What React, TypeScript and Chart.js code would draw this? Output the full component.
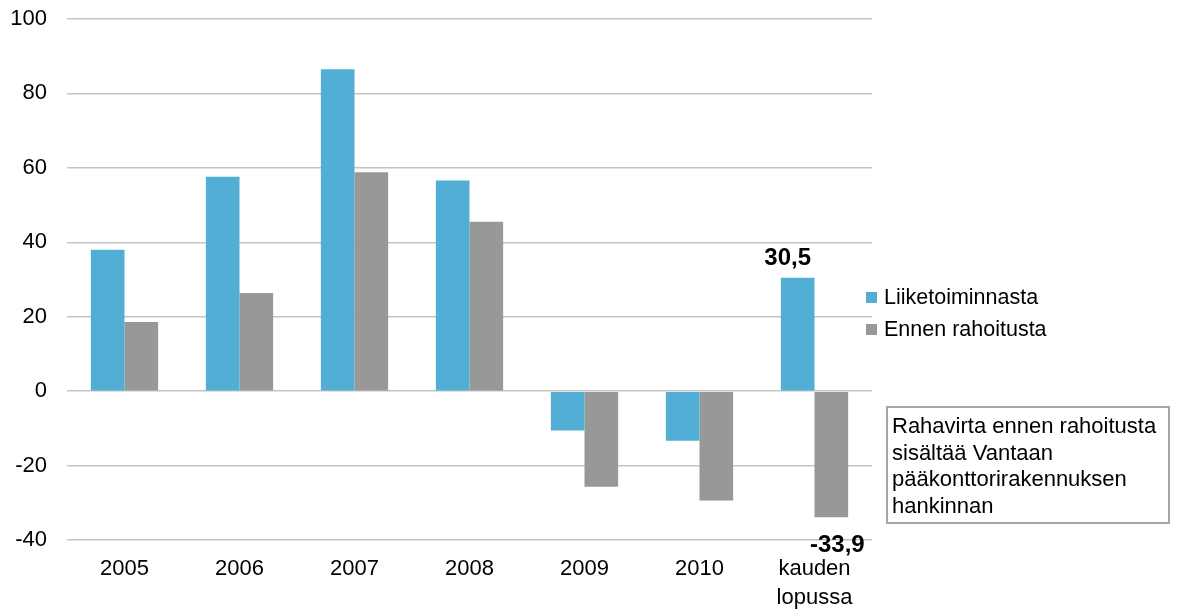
import React, { useEffect, useRef } from "react";
import { Chart, registerables } from "chart.js";

Chart.register(...registerables);

const categories: (string | string[])[] = ["2005", "2006", "2007", "2008", "2009", "2010", ["kauden", "lopussa"]];
const liiketoiminnasta = [38.0, 57.6, 86.5, 56.6, -10.6, -13.3, 30.5];
const ennenRahoitusta = [18.6, 26.4, 58.8, 45.5, -25.7, -29.4, -33.9];
const seriesNames = ["Liiketoiminnasta", "Ennen rahoitusta"];
const noteLines = ["Rahavirta ennen rahoitusta", "sisältää Vantaan", "pääkonttorirakennuksen", "hankinnan"];

const BLUE = "#52AED4";
const GRAY = "#989898";
const FONT = "'Liberation Sans', Arial, sans-serif";

const extrasPlugin = {
  id: "extras",
  afterDatasetsDraw(chart: any) {
    const ctx = chart.ctx;
    ctx.save();
    ctx.font = `bold 24px ${FONT}`;
    ctx.fillStyle = "#000";
    ctx.textAlign = "center";
    ctx.textBaseline = "middle";
    const last = categories.length - 1;
    const fmt = (v: number) => v.toFixed(1).replace(".", ",");
    const b0 = chart.getDatasetMeta(0).data[last];
    const b1 = chart.getDatasetMeta(1).data[last];
    ctx.fillText(fmt(liiketoiminnasta[last]), b0.x - 10, b0.y - 19);
    ctx.fillText(fmt(ennenRahoitusta[last]), b1.x + 6, b1.y + 28);
    ctx.restore();
  },
  afterDraw(chart: any) {
    const ctx = chart.ctx;
    ctx.save();
    // legend
    ctx.font = `21.5px ${FONT}`;
    ctx.textAlign = "left";
    ctx.textBaseline = "middle";
    chart.data.datasets.forEach((ds: any, i: number) => {
      const cy = 298 + i * 32;
      ctx.fillStyle = ds.backgroundColor;
      ctx.fillRect(866, cy - 6, 11, 11);
      ctx.fillStyle = "#000";
      ctx.fillText(ds.label, 884, cy);
    });
    // note box
    ctx.fillStyle = "#fff";
    ctx.fillRect(886, 406, 284, 118);
    ctx.strokeStyle = "#a6a6a6";
    ctx.lineWidth = 2;
    ctx.strokeRect(887, 407, 282, 116);
    ctx.fillStyle = "#000";
    ctx.font = `22px ${FONT}`;
    noteLines.forEach((t, i) => {
      ctx.fillText(t, 892, 427 + i * 26.7);
    });
    ctx.restore();
  },
};

export default function App() {
  const ref = useRef<HTMLCanvasElement | null>(null);
  useEffect(() => {
    if (!ref.current) return;
    const chart = new Chart(ref.current, {
      type: "bar",
      data: {
        labels: categories as any,
        datasets: [
          { label: seriesNames[0], data: liiketoiminnasta, backgroundColor: BLUE, categoryPercentage: 0.585, barPercentage: 1 },
          { label: seriesNames[1], data: ennenRahoitusta, backgroundColor: GRAY, categoryPercentage: 0.585, barPercentage: 1 },
        ],
      },
      options: {
        responsive: false,
        animation: false,
        layout: { padding: { top: 19, right: 310, left: 0, bottom: 0 } },
        plugins: { legend: { display: false }, tooltip: { enabled: false } },
        scales: {
          y: {
            min: -40,
            max: 100,
            ticks: { stepSize: 20, color: "#000", font: { family: FONT, size: 22 }, padding: 20 },
            grid: { color: "#c4c4c4", lineWidth: 1.5, drawTicks: false },
            border: { display: false },
            afterFit(scale: any) {
              scale.width = 67;
              scale.paddingTop = 0;
              scale.paddingBottom = 0;
            },
          },
          x: {
            ticks: { color: "#000", font: { family: FONT, size: 22, lineHeight: 1.3 }, padding: 15, maxRotation: 0 },
            grid: { display: false, drawTicks: false },
            border: { display: false },
            afterFit(scale: any) {
              scale.height = 70;
              scale.paddingLeft = 0;
              scale.paddingRight = 0;
            },
          },
        },
      },
      plugins: [extrasPlugin],
    });
    return () => chart.destroy();
  }, []);
  return (
    <div style={{ position: "absolute", left: 0, top: 0, width: 1182, height: 610, background: "#fff" }}>
      <canvas ref={ref} width={1182} height={610} />
    </div>
  );
}
